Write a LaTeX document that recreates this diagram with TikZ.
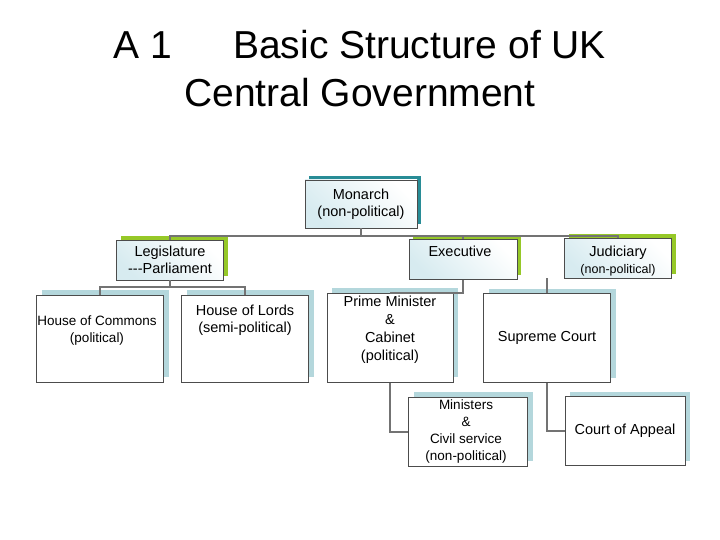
\documentclass[tikz,border=0pt]{standalone}
\usepackage{fontspec}
\setmainfont{Liberation Sans}
\usetikzlibrary{shadows}
\definecolor{teal1}{RGB}{40,140,150}
\definecolor{lgreen}{RGB}{150,200,40}
\definecolor{lblue}{RGB}{180,215,220}
\definecolor{fillb}{RGB}{215,235,240}
\begin{document}
\begin{tikzpicture}[x=1pt,y=-1pt,
  bx/.style={draw=black!70,line width=0.6pt,inner sep=0pt,align=center,font=\fontsize{14.5}{17}\selectfont},
  top/.style={bx,top color=white,bottom color=fillb,shading angle=-45},
  mon/.style={top,copy shadow={shadow xshift=4pt,shadow yshift=4pt,fill=teal1,draw=none}},
  grn/.style={top,copy shadow={shadow xshift=4pt,shadow yshift=4pt,fill=lgreen,draw=none}},
  wb/.style={bx,fill=white,copy shadow={shadow xshift=5pt,shadow yshift=5pt,fill=lblue,draw=none}},
  tx/.style={font=\fontsize{14.5}{17}\selectfont,align=center},
  ln/.style={draw=black!55,line width=2pt}]
\useasboundingbox (0,0) rectangle (720,540);
\node[font=\fontsize{39}{48}\selectfont,align=center] (title) at (360,69) {A 1\quad\ \ Basic Structure of UK\\Central Government};
% boxes
\node[mon,minimum width=112,minimum height=48] (mon) at (361,204) {Monarch\\(non-political)};
\node[grn,minimum width=107,minimum height=40] (leg) at (170,260) {Legislature\\{-}{-}{-}Parliament};
\node[grn,minimum width=108,minimum height=40,anchor=north] (exe) at (463,239) {};
\node[tx] (exet) at (460,251) {Executive};
\node[grn,minimum width=107,minimum height=40] (jud) at (618,258) {};
\node[tx] (judt) at (618,253) {Judiciary};
\node[font=\fontsize{12.5}{14}\selectfont] (judn) at (618,270) {(non-political)};
\node[wb,minimum width=127,minimum height=87,anchor=north] (hoc) at (100,295) {};
\node[font=\fontsize{13.5}{17}\selectfont,align=center] (hoct) at (97,331) {House of Commons\\(political)};
\node[wb,minimum width=127,minimum height=87,anchor=north] (hol) at (245,295) {};
\node[tx] (holt) at (245,320) {House of Lords\\(semi-political)};
\node[wb,minimum width=126,minimum height=89,anchor=north] (pm) at (390,293) {};
\node[font=\fontsize{14.5}{18}\selectfont,align=center] (pmt) at (390,330) {Prime Minister\\\&\\Cabinet\\(political)};
\node[wb,minimum width=127,minimum height=89] (sc) at (547,338) {Supreme Court};
\node[wb,minimum width=119,minimum height=69,anchor=north] (min) at (468,397) {};
\node[font=\fontsize{13.5}{17}\selectfont,align=center] (mint) at (466,432) {Ministers\\\&\\Civil service\\(non-political)};
\node[wb,minimum width=120,minimum height=69] (ca) at (625,431) {Court of Appeal};
% connectors
\coordinate (j1) at (361,236);
\draw[ln] (mon.south) -- (j1);
\draw[ln] (leg.north) |- (j1) -| (exe.north);
\draw[ln] (j1) -| (jud.north);
\coordinate (j2) at (170,287);
\draw[ln] (leg.south) -- (j2);
\draw[ln] (hoc.north) |- (j2) -| (hol.north);
\draw[ln] (exe.south) |- (pm.north);
\draw[ln] (547,278) -- (sc.north);
\draw[ln] (pm.south) |- (min.west);
\draw[ln] (sc.south) |- (ca.west);
\end{tikzpicture}
\end{document}
